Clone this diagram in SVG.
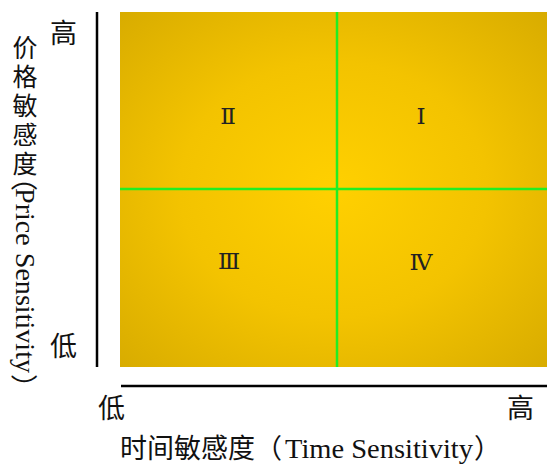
<svg xmlns="http://www.w3.org/2000/svg" width="547" height="465" viewBox="0 0 547 465">
<defs>
<radialGradient id="gold" cx="0.5" cy="0.5" r="0.72" gradientUnits="objectBoundingBox">
<stop offset="0" stop-color="#FFD000"/>
<stop offset="0.5" stop-color="#F3C300"/>
<stop offset="1" stop-color="#D7AB00"/>
</radialGradient>
<style>
.cjk{font-family:"Noto Sans CJK SC","Noto Sans CJK JP",sans-serif;font-size:27px;fill:#111}
.vt{font-size:25px;writing-mode:vertical-rl;letter-spacing:4px}
.lat{font-family:"Liberation Serif","Times New Roman",Tinos,"DejaVu Serif",serif;font-size:27px;fill:#111}
.rn{font-family:"Liberation Serif","Times New Roman","DejaVu Serif","Noto Sans CJK SC",serif;font-size:23px;fill:#222;text-anchor:middle;dominant-baseline:central}
.grid{stroke:#22EE22;stroke-width:2.5}
.axis{stroke:#000;stroke-width:2.5}
</style>
</defs>
<rect width="547" height="465" fill="#fff"/>
<g id="matrix">
<rect x="120" y="12" width="427" height="355" fill="url(#gold)"/>
</g>
<g id="connectors">
<line class="grid" x1="337" y1="12" x2="337" y2="367"/>
<line class="grid" x1="120" y1="189" x2="547" y2="189"/>
<line class="axis" x1="97" y1="12" x2="97" y2="367"/>
<line class="axis" x1="121" y1="386" x2="547" y2="386"/>
</g>
<g id="q2"><text class="rn" x="228" y="116">Ⅱ</text></g>
<g id="q1"><text class="rn" x="421" y="116">Ⅰ</text></g>
<g id="q3"><text class="rn" x="229" y="261">Ⅲ</text></g>
<g id="q4"><text class="rn" x="421" y="262">Ⅳ</text></g>
<g id="y-labels">
<text class="cjk" x="50" y="43">高</text>
<text class="cjk" x="50" y="356">低</text>
</g>
<g id="x-labels">
<text class="cjk" x="98" y="418">低</text>
<text class="cjk" x="507" y="418">高</text>
</g>
<g id="x-title">
<text class="cjk" x="120" y="458">时间敏感度（</text>
<text class="lat" x="285" y="458" textLength="188" lengthAdjust="spacingAndGlyphs">Time Sensitivity</text>
<text class="cjk" x="474" y="458">）</text>
</g>
<g id="y-title">
<text class="cjk vt" x="25" y="35">价格敏感度</text>
<g transform="translate(25,0) rotate(90)">
<text class="cjk" x="191" y="0" font-size="25" text-anchor="end" dominant-baseline="central">（</text>
<text class="lat" x="188" y="0" dominant-baseline="central" textLength="185" lengthAdjust="spacingAndGlyphs">Price Sensitivity</text>
<text class="cjk" x="374" y="0" font-size="25" dominant-baseline="central">）</text>
</g>
</g>
</svg>
